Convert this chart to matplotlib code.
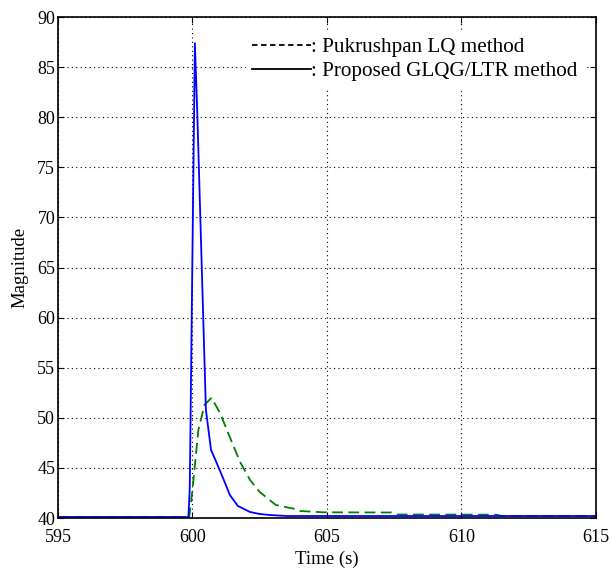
import matplotlib
matplotlib.use("Agg")
import matplotlib.pyplot as plt
from matplotlib.lines import Line2D

plt.rcParams['font.family'] = ['Liberation Serif', 'DejaVu Serif']

# Proposed GLQG/LTR method (blue solid)
t_prop = [595.0, 599.85, 599.9, 600.09, 600.18, 600.5, 600.69, 600.9, 601.15, 601.39,
          601.69, 602.14, 602.5, 602.88, 603.5, 605.0, 610.0, 615.0]
y_prop = [40.1, 40.1, 43.0, 87.4, 80.4, 50.8, 46.8, 45.5, 43.9, 42.3,
          41.2, 40.6, 40.4, 40.3, 40.2, 40.2, 40.2, 40.2]

# Pukrushpan LQ method (green dashed)
t_lq = [595.0, 599.88, 600.0, 600.22, 600.45, 600.71, 601.02, 601.4, 601.77, 602.14,
        602.5, 603.1, 603.87, 604.0, 604.85, 607.4, 607.6, 611.3, 611.5, 615.0]
y_lq = [40.1, 40.1, 42.8, 48.8, 51.3, 52.0, 50.5, 48.0, 45.6, 43.8,
        42.6, 41.3, 40.87, 40.7, 40.57, 40.55, 40.35, 40.33, 40.2, 40.2]

xticks = [595, 600, 605, 610, 615]
yticks = [40, 45, 50, 55, 60, 65, 70, 75, 80, 85, 90]

fig = plt.figure(figsize=(6.1, 5.71), dpi=100)
ax = fig.add_axes([0.095, 0.0928, 0.882, 0.8772])

ax.plot(t_lq, y_lq, color=(0, 0.5, 0), linestyle=(0, (6, 3)), linewidth=1.3)
ax.plot(t_prop, y_prop, color=(0, 0, 1), linewidth=1.3)

ax.set_xlim(595, 615)
ax.set_ylim(40, 90)
ax.set_xticks(xticks)
ax.set_yticks(yticks)
ax.grid(True, color='black', linestyle=(0, (1, 3)), linewidth=0.8)
ax.tick_params(direction='in', top=True, right=True, labelsize=13, length=4)
ax.tick_params(axis='x', pad=8)
ax.tick_params(axis='y', pad=2)
for s in ax.spines.values():
    s.set_linewidth(1.2)

ax.set_xlabel('Time (s)', fontsize=13.5, labelpad=3)
ax.set_ylabel('Magnitude', fontsize=13.5, labelpad=6)

handles = [Line2D([], [], color='black', linestyle=(0, (3, 2)), linewidth=1.3),
           Line2D([], [], color='black', linewidth=1.3)]
leg = ax.legend(handles, [': Pukrushpan LQ method', ': Proposed GLQG/LTR method'],
                loc='upper right', bbox_to_anchor=(0.978, 0.972),
                fontsize=15.2, handlelength=2.8, handletextpad=0.0,
                frameon=True, fancybox=False, edgecolor='white', framealpha=1,
                borderaxespad=0.0, labelspacing=0.2, borderpad=0.3)

fig.savefig('out.png', dpi=100)
